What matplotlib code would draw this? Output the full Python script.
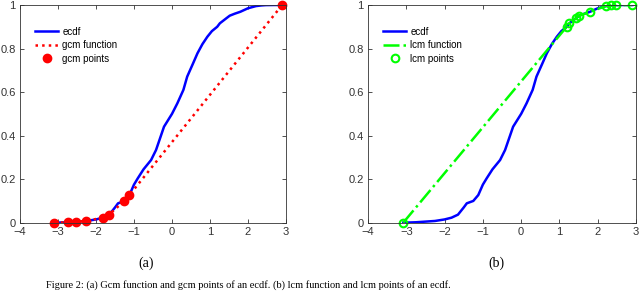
import matplotlib.pyplot as plt
from matplotlib.ticker import FormatStrFormatter

# ecdf (same sample in both panels)
ecdf_x = [-3.08, -2.75, -2.5, -2.25, -2.0, -1.82, -1.65, -1.5, -1.42, -1.25, -1.12,
          -1.0, -0.9, -0.75, -0.55, -0.42, -0.21, 0.0, 0.14, 0.3, 0.4, 0.55, 0.67,
          0.8, 0.93, 1.05, 1.19, 1.26, 1.43, 1.52, 1.65, 1.80, 2.0, 2.21, 2.35,
          2.47, 2.7, 2.9]
ecdf_y = [0.0, 0.002, 0.005, 0.008, 0.015, 0.023, 0.037, 0.07, 0.089, 0.10, 0.127,
          0.175, 0.204, 0.245, 0.288, 0.334, 0.441, 0.50, 0.548, 0.61, 0.671, 0.73,
          0.778, 0.82, 0.854, 0.88, 0.90, 0.916, 0.939, 0.951, 0.96, 0.969, 0.985,
          0.995, 0.998, 0.9995, 1.0, 1.0]

# greatest convex minorant points
gcm_x = [-3.10, -2.745, -2.526, -2.263, -1.82, -1.658, -1.255, -1.12, 2.9]
gcm_y = [0.0, 0.002, 0.005, 0.008, 0.023, 0.037, 0.10, 0.127, 1.0]

# least concave majorant points
lcm_x = [-3.08, 1.19, 1.26, 1.43, 1.52, 1.80, 2.21, 2.35, 2.47, 2.9]
lcm_y = [0.0, 0.90, 0.916, 0.939, 0.951, 0.969, 0.995, 0.998, 0.9995, 1.0]

xticks = [-4, -3, -2, -1, 0, 1, 2, 3]
yticks = [0, 0.2, 0.4, 0.6, 0.8, 1]

plt.rcParams['font.family'] = ['Liberation Sans', 'DejaVu Sans']

fig = plt.figure(figsize=(6.4, 2.91), dpi=100)
ax1 = fig.add_axes([0.03125, 0.2347, 0.4156, 0.7481])
ax2 = fig.add_axes([0.575, 0.2347, 0.4188, 0.7481])

ax1.plot(ecdf_x, ecdf_y, color='#0000ff', lw=1.8, label='ecdf')
ax1.plot(gcm_x, gcm_y, color='#ff0000', lw=1.8, ls=':', label='gcm function')
ax1.plot(gcm_x, gcm_y, 'o', color='#ff0000', ms=6, label='gcm points', clip_on=False)

ax2.plot(ecdf_x, ecdf_y, color='#0000ff', lw=1.8, label='ecdf')
ax2.plot(lcm_x, lcm_y, color='#00ff00', lw=1.8, ls='-.', label='lcm function')
ax2.plot(lcm_x, lcm_y, 'o', mfc='none', mec='#00ff00', mew=1.5, ms=5.5,
         label='lcm points', clip_on=False)

for ax in (ax1, ax2):
    ax.set_xlim(-4, 3)
    ax.set_ylim(0, 1)
    ax.set_xticks(xticks)
    ax.set_yticks(yticks)
    ax.yaxis.set_major_formatter(FormatStrFormatter('%g'))
    ax.tick_params(direction='in', top=True, right=True, length=3, width=0.6,
                   labelsize=8, colors='#333333', pad=3)
    for sp in ax.spines.values():
        sp.set_linewidth(0.6)
        sp.set_color('#333333')
    ax.legend(loc='upper left', frameon=False, fontsize=7, handlelength=2.4,
              borderaxespad=0.6, labelspacing=0.35, handletextpad=0.4,
              bbox_to_anchor=(0.02, 0.945))

fig.text(146 / 640, 1 - 263 / 291, '(a)', family='Liberation Serif', fontsize=10,
         ha='center', va='center')
fig.text(496 / 640, 1 - 263 / 291, '(b)', family='Liberation Serif', fontsize=10,
         ha='center', va='center')
fig.text(46 / 640, 1 - 285 / 291,
         'Figure 2: (a) Gcm function and gcm points of an ecdf. (b) lcm function and lcm points of an ecdf.',
         family='Liberation Serif', fontsize=7.5, ha='left', va='center')

fig.savefig('out.png', dpi=100)
